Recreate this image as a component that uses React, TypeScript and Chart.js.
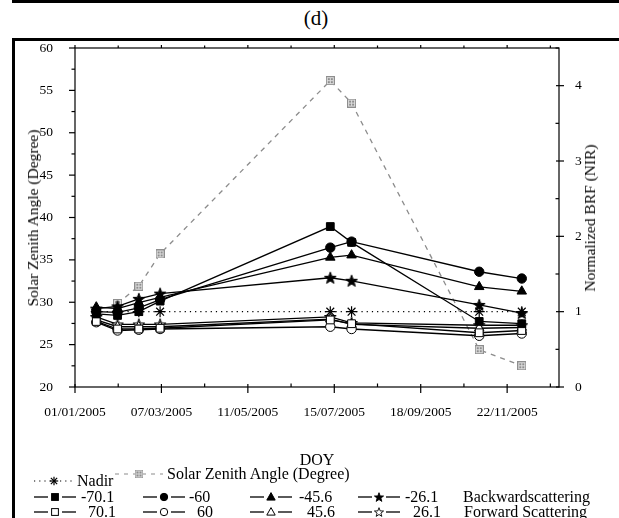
import React, { useEffect, useRef } from 'react';
import { Chart, registerables } from 'chart.js';

Chart.register(...registerables);

// ---------- data ----------
const compositeDates = ['17/01/2005', '02/02/2005', '18/02/2005', '06/03/2005', '12/07/2005', '28/07/2005', '01/11/2005', '03/12/2005'];
const xTickDates = ['01/01/2005', '07/03/2005', '11/05/2005', '15/07/2005', '18/09/2005', '22/11/2005'];
const leftTicks = [20, 25, 30, 35, 40, 45, 50, 55, 60];
const rightTicks = [0, 1, 2, 3, 4];

const nadir = [1, 1, 1, 1, 1, 1, 1, 1];
const back70 = [0.97, 0.95, 1.0, 1.14, 2.13, 1.92, 0.87, 0.84];
const back60 = [1.0, 0.99, 1.05, 1.16, 1.85, 1.93, 1.53, 1.44];
const back45 = [1.06, 1.04, 1.12, 1.19, 1.72, 1.75, 1.33, 1.27];
const back26 = [1.04, 1.07, 1.17, 1.24, 1.45, 1.41, 1.09, 0.98];
const fwd70 = [0.87, 0.77, 0.77, 0.78, 0.89, 0.84, 0.72, 0.75];
const fwd60 = [0.86, 0.75, 0.76, 0.77, 0.8, 0.77, 0.68, 0.71];
const fwd45 = [0.89, 0.8, 0.8, 0.8, 0.9, 0.83, 0.78, 0.79];
const fwd26 = [0.93, 0.83, 0.83, 0.83, 0.93, 0.85, 0.82, 0.82];
const sza: (number | null)[] = [null, 29.85, 31.9, 35.7, 56.15, 53.5, 24.4, 22.5];

const FONT = "'Liberation Serif', 'Times New Roman', Times, serif";
const X_MAX_DATE = '31/12/2005';

function dayOffset(s: string): number {
  const [d, m, y] = s.split('/').map(Number);
  return (Date.UTC(y, m - 1, d) - Date.UTC(2005, 0, 1)) / 86400000;
}

function series(vals: (number | null)[]) {
  const out: { x: number; y: number }[] = [];
  vals.forEach((v, i) => {
    if (v !== null) out.push({ x: dayOffset(compositeDates[i]), y: v });
  });
  return out;
}

function makeStar(fill: string): HTMLCanvasElement {
  const c = document.createElement('canvas');
  c.width = 14;
  c.height = 14;
  const g = c.getContext('2d')!;
  g.beginPath();
  for (let i = 0; i < 10; i++) {
    const r = i % 2 === 0 ? 6.2 : 2.6;
    const a = -Math.PI / 2 + (i * Math.PI) / 5;
    const px = 7 + r * Math.cos(a);
    const py = 7.5 + r * Math.sin(a);
    if (i === 0) g.moveTo(px, py);
    else g.lineTo(px, py);
  }
  g.closePath();
  g.fillStyle = fill;
  g.fill();
  g.strokeStyle = '#000';
  g.lineWidth = 1;
  g.stroke();
  return c;
}

function makeSza(): HTMLCanvasElement {
  const c = document.createElement('canvas');
  c.width = 9;
  c.height = 9;
  const g = c.getContext('2d')!;
  g.fillStyle = '#8e8e8e';
  g.fillRect(0, 0, 9, 9);
  g.strokeStyle = '#dedede';
  g.lineWidth = 1;
  g.strokeRect(1.5, 1.5, 6, 6);
  g.beginPath();
  g.moveTo(4.5, 1.5);
  g.lineTo(4.5, 7.5);
  g.moveTo(1.5, 4.5);
  g.lineTo(7.5, 4.5);
  g.stroke();
  return c;
}

const axisPlugin = {
  id: 'axisBox',
  afterDraw(chart: any) {
    const { ctx, chartArea: a, scales } = chart;
    ctx.save();
    ctx.strokeStyle = '#000';
    ctx.lineWidth = 1.2;
    ctx.strokeRect(a.left, a.top, a.right - a.left, a.bottom - a.top);
    const seg = (x1: number, y1: number, x2: number, y2: number) => {
      ctx.beginPath();
      ctx.moveTo(x1, y1);
      ctx.lineTo(x2, y2);
      ctx.stroke();
    };
    const yl = scales.y;
    for (let i = 0; i < leftTicks.length; i++) {
      const p = yl.getPixelForValue(leftTicks[i]);
      seg(a.left - 6, p, a.left, p);
      if (i < leftTicks.length - 1) {
        const pm = yl.getPixelForValue((leftTicks[i] + leftTicks[i + 1]) / 2);
        seg(a.left - 3.5, pm, a.left, pm);
      }
    }
    const yr = scales.y1;
    for (let i = 0; i < rightTicks.length; i++) {
      const p = yr.getPixelForValue(rightTicks[i]);
      seg(a.right - 3, p, a.right + 5, p);
      const pm = yr.getPixelForValue(rightTicks[i] + 0.5);
      seg(a.right - 3.5, pm, a.right, pm);
    }
    const xs = scales.x;
    const offs = xTickDates.map(dayOffset);
    const step = offs[1] - offs[0];
    for (let i = 0; i < offs.length; i++) {
      const p = xs.getPixelForValue(offs[i]);
      seg(p, a.bottom - 3, p, a.bottom + 6);
      seg(p, a.top - 3, p, a.top);
      const m = offs[i] + step / 2;
      if (m < xs.max) {
        const pm = xs.getPixelForValue(m);
        seg(pm, a.bottom - 3.5, pm, a.bottom);
        seg(pm, a.top - 2.5, pm, a.top);
      }
    }
    ctx.restore();
  },
};

// ---------- legend symbols ----------
function Sym(props: { kind: string; filled?: boolean; left: number; cy: number; width?: number }) {
  const { kind, filled, left, cy } = props;
  const w = props.width ?? 44;
  const h = 14;
  const mx = w / 2;
  const my = 7;
  const fill = filled ? '#000' : '#fff';
  let marker: React.ReactNode = null;
  let line: React.ReactNode = null;
  if (kind === 'nadir') {
    line = <line x1={1} y1={my} x2={w - 1} y2={my} stroke="#000" strokeWidth={1.1} strokeDasharray="1.2 4" />;
    const s = 4.2;
    marker = (
      <g stroke="#000" strokeWidth={1.2}>
        <line x1={mx - s} y1={my} x2={mx + s} y2={my} />
        <line x1={mx} y1={my - s} x2={mx} y2={my + s} />
        <line x1={mx - s * 0.75} y1={my - s * 0.75} x2={mx + s * 0.75} y2={my + s * 0.75} />
        <line x1={mx - s * 0.75} y1={my + s * 0.75} x2={mx + s * 0.75} y2={my - s * 0.75} />
      </g>
    );
  } else if (kind === 'sza') {
    line = <line x1={1} y1={my} x2={w - 1} y2={my} stroke="#8c8c8c" strokeWidth={1.2} strokeDasharray="4 5" />;
    marker = (
      <g>
        <rect x={mx - 4} y={my - 4} width={8} height={8} fill="#8e8e8e" />
        <rect x={mx - 3} y={my - 3} width={6} height={6} fill="none" stroke="#dedede" strokeWidth={0.9} />
        <line x1={mx} y1={my - 3} x2={mx} y2={my + 3} stroke="#dedede" strokeWidth={0.9} />
        <line x1={mx - 3} y1={my} x2={mx + 3} y2={my} stroke="#dedede" strokeWidth={0.9} />
      </g>
    );
  } else {
    line = (
      <g stroke="#000" strokeWidth={1.3}>
        <line x1={1} y1={my} x2={mx - 7} y2={my} />
        <line x1={mx + 7} y1={my} x2={w - 1} y2={my} />
      </g>
    );
    if (kind === 'rect') marker = <rect x={mx - 3.4} y={my - 3.4} width={6.8} height={6.8} fill={fill} stroke="#000" strokeWidth={1} />;
    if (kind === 'circle') marker = <circle cx={mx} cy={my} r={3.7} fill={fill} stroke="#000" strokeWidth={1} />;
    if (kind === 'triangle')
      marker = <polygon points={`${mx},${my - 4.4} ${mx + 4.2},${my + 3.1} ${mx - 4.2},${my + 3.1}`} fill={fill} stroke="#000" strokeWidth={1} />;
    if (kind === 'star') {
      const pts: string[] = [];
      for (let i = 0; i < 10; i++) {
        const r = i % 2 === 0 ? 4.8 : 2.0;
        const a = -Math.PI / 2 + (i * Math.PI) / 5;
        pts.push(`${(mx + r * Math.cos(a)).toFixed(2)},${(my + 0.5 + r * Math.sin(a)).toFixed(2)}`);
      }
      marker = <polygon points={pts.join(' ')} fill={fill} stroke="#000" strokeWidth={0.9} />;
    }
  }
  return (
    <svg width={w} height={h} style={{ position: 'absolute', left, top: cy - h / 2 }}>
      {line}
      {marker}
    </svg>
  );
}

function Txt(props: { left: number; cy: number; size?: number; children: React.ReactNode }) {
  const size = props.size ?? 16;
  return (
    <div
      style={{
        position: 'absolute',
        left: props.left,
        top: props.cy - size * 0.6,
        fontFamily: FONT,
        fontSize: size,
        lineHeight: `${size * 1.2}px`,
        whiteSpace: 'nowrap',
        color: '#000',
      }}
    >
      {props.children}
    </div>
  );
}

const rotTitle = (left: number): React.CSSProperties => ({
  position: 'absolute',
  left,
  top: 218,
  transform: 'translate(-50%, -50%) rotate(-90deg)',
  fontFamily: FONT,
  fontSize: 15.5,
  fontWeight: 'normal',
  color: '#000',
  whiteSpace: 'nowrap',
});

export default function App() {
  const ref = useRef<HTMLCanvasElement | null>(null);

  useEffect(() => {
    if (!ref.current) return;
    const starFilled = makeStar('#000');
    const starOpen = makeStar('#fff');
    const szaImg = makeSza();
    const xTickOffsets = xTickDates.map(dayOffset);
    const lw = 1.3;

    const blackSet = (label: string, vals: number[], style: any, radius: number, filled: boolean) => ({
      label,
      data: series(vals),
      yAxisID: 'y1',
      borderColor: '#000',
      borderWidth: lw,
      pointStyle: style,
      pointRadius: radius,
      pointBackgroundColor: filled ? '#000' : '#fff',
      pointBorderColor: '#000',
      pointBorderWidth: 1,
      fill: false,
      tension: 0,
    });

    const tickFont = { family: FONT, size: 13.5 };

    const chart = new Chart(ref.current, {
      type: 'line',
      data: {
        datasets: [
          blackSet('-70.1', back70, 'rect', 5.5, true),
          blackSet('-60', back60, 'circle', 4.7, true),
          blackSet('-45.6', back45, 'triangle', 5.5, true),
          blackSet('-26.1', back26, starFilled, 6, true),
          blackSet('70.1', fwd70, 'rect', 5.5, false),
          blackSet('60', fwd60, 'circle', 4.7, false),
          blackSet('45.6', fwd45, 'triangle', 5.5, false),
          blackSet('26.1', fwd26, starOpen, 6, false),
          {
            label: 'Nadir',
            data: series(nadir),
            yAxisID: 'y1',
            borderColor: '#000',
            borderWidth: 1.1,
            borderDash: [1.2, 4],
            pointStyle: 'star',
            pointRadius: 5.5,
            pointBorderColor: '#000',
            pointBorderWidth: 1.2,
            fill: false,
          } as any,
          {
            label: 'Solar Zenith Angle (Degree)',
            data: series(sza),
            yAxisID: 'y',
            borderColor: '#8c8c8c',
            borderWidth: 1.3,
            borderDash: [5, 5],
            pointStyle: szaImg,
            pointRadius: 5,
            fill: false,
          } as any,
        ],
      },
      options: {
        responsive: false,
        animation: false,
        devicePixelRatio: 1,
        layout: { padding: { left: 0, right: 0, top: 48, bottom: 0 } },
        plugins: { legend: { display: false }, tooltip: { enabled: false } },
        scales: {
          x: {
            type: 'linear',
            min: 0,
            max: dayOffset(X_MAX_DATE),
            grid: { display: false },
            border: { display: false },
            afterBuildTicks: (s: any) => {
              s.ticks = xTickOffsets.map((v) => ({ value: v }));
            },
            afterFit: (s: any) => {
              s.height = 131;
            },
            ticks: {
              autoSkip: false,
              maxRotation: 0,
              padding: 9,
              color: '#000',
              font: tickFont,
              callback: (v: any) => {
                const i = xTickOffsets.indexOf(Number(v));
                return i >= 0 ? xTickDates[i] : '';
              },
            },
          },
          y: {
            position: 'left',
            min: 20,
            max: 60,
            grid: { display: false },
            border: { display: false },
            afterBuildTicks: (s: any) => {
              s.ticks = leftTicks.map((v) => ({ value: v }));
            },
            afterFit: (s: any) => {
              s.width = 75;
            },
            ticks: { padding: 14, color: '#000', font: tickFont },
          },
          y1: {
            position: 'right',
            min: 0,
            max: 4.5,
            grid: { display: false },
            border: { display: false },
            afterBuildTicks: (s: any) => {
              s.ticks = rightTicks.map((v) => ({ value: v }));
            },
            afterFit: (s: any) => {
              s.width = 60;
            },
            ticks: { padding: 8, color: '#000', font: tickFont },
          },
        },
      } as any,
      plugins: [axisPlugin],
    });
    return () => chart.destroy();
  }, []);

  const row2 = 497;
  const row3 = 512;
  return (
    <div style={{ position: 'absolute', left: 0, top: 0, width: 619, height: 518, overflow: 'hidden', background: '#fff' }}>
      <div style={{ position: 'absolute', left: 12, top: -10, width: 620, height: 10, borderLeft: '3px solid #000', borderBottom: '3px solid #000' }} />
      <div style={{ position: 'absolute', left: 12, top: 38, width: 620, height: 600, borderLeft: '3px solid #000', borderTop: '3px solid #000' }} />
      <div style={{ position: 'absolute', left: 0, width: 632, top: 5, textAlign: 'center', fontFamily: FONT, fontSize: 21, lineHeight: '26px', color: '#000' }}>(d)</div>
      <canvas ref={ref} width={619} height={518} style={{ position: 'absolute', left: 0, top: 0, width: 619, height: 518 }} />
      <div style={rotTitle(33)}>Solar Zenith Angle (Degree)</div>
      <div style={rotTitle(590)}>Normalized BRF (NIR)</div>
      <div style={{ position: 'absolute', left: 317, top: 460, transform: 'translate(-50%, -50%)', fontFamily: FONT, fontSize: 16, whiteSpace: 'nowrap', color: '#000' }}>DOY</div>

      <Sym kind="nadir" left={33} cy={481} width={42} />
      <Txt left={77} cy={481}>Nadir</Txt>
      <Sym kind="sza" left={114} cy={474} width={50} />
      <Txt left={167} cy={474}>Solar Zenith Angle (Degree)</Txt>

      <Sym kind="rect" filled left={33} cy={row2} />
      <Txt left={81} cy={row2}>-70.1</Txt>
      <Sym kind="circle" filled left={142} cy={row2} />
      <Txt left={189} cy={row2}>-60</Txt>
      <Sym kind="triangle" filled left={249} cy={row2} />
      <Txt left={299} cy={row2}>-45.6</Txt>
      <Sym kind="star" filled left={357} cy={row2} />
      <Txt left={405} cy={row2}>-26.1</Txt>
      <Txt left={463} cy={row2}>Backwardscattering</Txt>

      <Sym kind="rect" left={33} cy={row3} />
      <Txt left={88} cy={row3}>70.1</Txt>
      <Sym kind="circle" left={142} cy={row3} />
      <Txt left={197} cy={row3}>60</Txt>
      <Sym kind="triangle" left={249} cy={row3} />
      <Txt left={307} cy={row3}>45.6</Txt>
      <Sym kind="star" left={357} cy={row3} />
      <Txt left={413} cy={row3}>26.1</Txt>
      <Txt left={464} cy={row3}>Forward Scattering</Txt>
    </div>
  );
}
